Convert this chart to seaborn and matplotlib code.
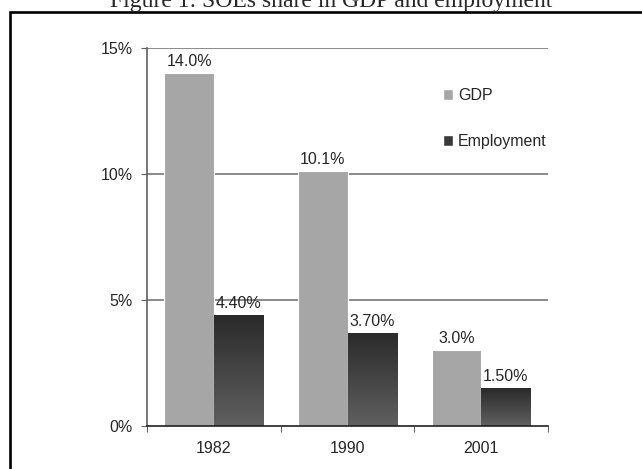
import seaborn as sns
import matplotlib.pyplot as plt
import matplotlib.patches as mpatches
from matplotlib.colors import LinearSegmentedColormap
import pandas as pd
import numpy as np

years = ["1982", "1990", "2001"]
gdp = [14.0, 10.1, 3.0]
employment = [4.4, 3.7, 1.5]
gdp_labels = ["14.0%", "10.1%", "3.0%"]
emp_labels = ["4.40%", "3.70%", "1.50%"]
series = ["GDP", "Employment"]

df = pd.DataFrame({
    "year": years * 2,
    "share": gdp + employment,
    "series": [series[0]] * 3 + [series[1]] * 3,
})

sns.set_style("white")
plt.rcParams["font.family"] = ["Liberation Sans", "DejaVu Sans"]
fs = 11.5

fig = plt.figure(figsize=(6.42, 4.69), dpi=100)
ax = fig.add_axes([147 / 642, 43 / 469, 401 / 642, 378 / 469])

sns.barplot(data=df, x="year", y="share", hue="series",
            palette=["#a6a6a6", "#3a3a3a"], width=0.74,
            edgecolor="white", linewidth=0.8, saturation=1,
            legend=False, ax=ax)

# gradient fill on the employment bars, dark at the top
cmap = LinearSegmentedColormap.from_list("emp", ["#2a2a2a", "#606060"])
grad = np.linspace(0, 1, 256).reshape(-1, 1)
for bar in ax.containers[1]:
    x0, w, h = bar.get_x(), bar.get_width(), bar.get_height()
    im = ax.imshow(grad, cmap=cmap, extent=[x0, x0 + w, 0, h],
                   aspect="auto", zorder=bar.get_zorder() + 0.1)
    im.set_clip_path(bar)

ax.bar_label(ax.containers[0], labels=gdp_labels, padding=3, fontsize=fs)
ax.bar_label(ax.containers[1], labels=emp_labels, padding=3, fontsize=fs)

ax.set_xlim(-0.5, 2.5)
ax.set_ylim(0, 15)
ax.set_yticks([0, 5, 10, 15])
ax.set_yticklabels(["0%", "5%", "10%", "15%"], fontsize=fs)
for v in [5, 10, 15]:
    ax.axhline(v, color="#808080", lw=1.3, zorder=0.5)

ax.set_xticks([0, 1, 2])
ax.set_xticklabels(years, fontsize=fs)
ax.set_xticks([-0.5, 0.5, 1.5, 2.5], minor=True)
ax.tick_params(axis="x", which="major", length=0, pad=11)
ax.tick_params(axis="x", which="minor", length=4, direction="out",
               color="#404040", bottom=True)
ax.tick_params(axis="y", length=4, direction="out", color="#606060",
               left=True, pad=6)
ax.set_xlabel("")
ax.set_ylabel("")

for s in ["top", "right"]:
    ax.spines[s].set_visible(False)
ax.spines["left"].set_color("#606060")
ax.spines["bottom"].set_color("#202020")
ax.spines["left"].set_linewidth(1.2)
ax.spines["bottom"].set_linewidth(1.2)

handles = [mpatches.Patch(facecolor="#a6a6a6", label=series[0]),
           mpatches.Patch(facecolor="#3a3a3a", label=series[1])]
ax.legend(handles=handles, loc="upper left",
          bbox_to_anchor=((443 - 147) / 401, (426 - 88) / 378),
          frameon=False, fontsize=fs, handlelength=0.65, handleheight=0.65,
          handletextpad=0.3, labelspacing=1.95, borderpad=0,
          borderaxespad=0)

# frame around the figure and the clipped caption above it
fig.patches.append(mpatches.Rectangle((9.5 / 642, -0.1), 2, 1.1 - 12 / 469,
                                      transform=fig.transFigure, fill=False,
                                      lw=1.9, edgecolor="black"))
fig.text(331 / 642, 1 - 7 / 469, "Figure 1: SOEs share in GDP and employment",
         ha="center", va="baseline", fontsize=17,
         family=["Liberation Serif", "DejaVu Serif"])

fig.savefig("out.png", dpi=100)
